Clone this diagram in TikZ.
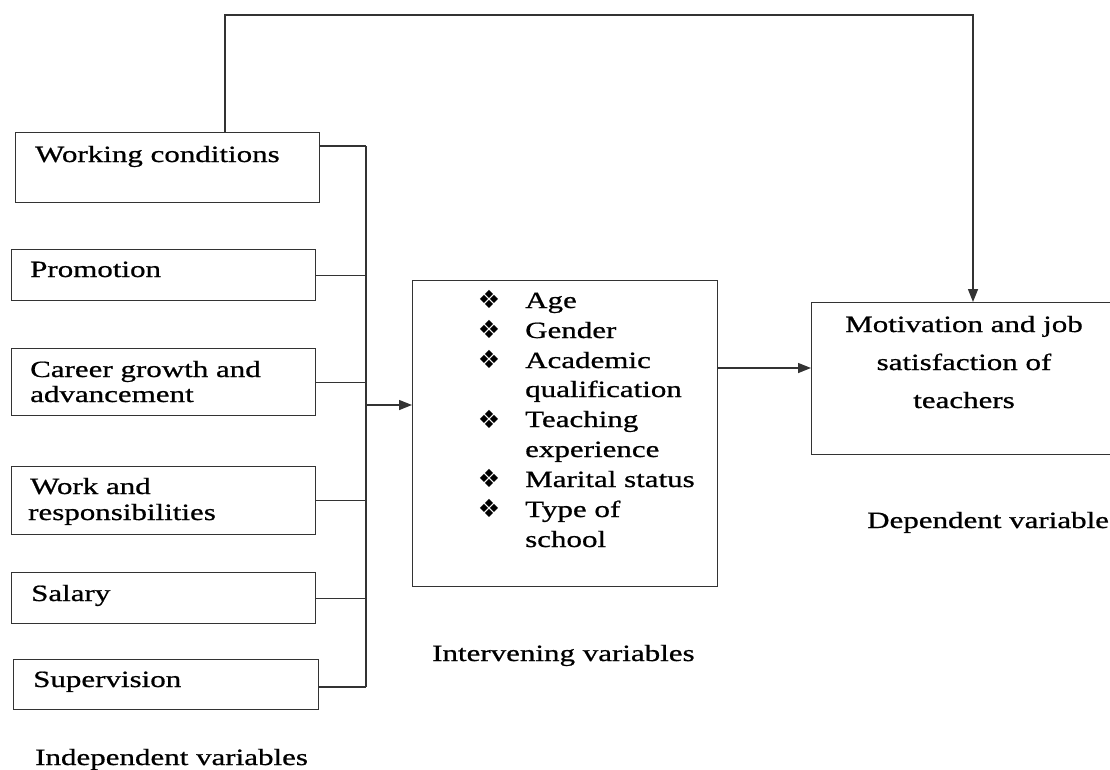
\documentclass[tikz,border=0pt]{standalone}
\usepackage{fontspec}
\setmainfont[FakeStretch=1.33,FakeBold=0.8]{Liberation Serif}
\newfontfamily\dejavu{DejaVu Sans}
\usetikzlibrary{arrows.meta}
\begin{document}
\begin{tikzpicture}[x=1pt,y=-1pt,
  line/.style={draw=black!80, line width=1.4pt},
  box/.style={line, inner sep=0pt, anchor=north west},
  lbl/.style={font=\fontsize{23.3}{25}\selectfont, inner sep=0pt, anchor=base west, text=black},
  clbl/.style={lbl, anchor=base},
  bul/.style={font=\dejavu\fontsize{25}{25}\selectfont, inner sep=0pt, anchor=base, text=black},
  arr/.style={line, -{Triangle[length=13pt,width=10pt]}}]
\useasboundingbox (0,0) rectangle (1110,769);

% left boxes
\node[box, minimum width=304pt, minimum height=70pt] (wc) at (15,132) {};
\node[box, minimum width=304pt, minimum height=51pt] (pr) at (11,249) {};
\node[box, minimum width=304pt, minimum height=67pt] (cg) at (11,348) {};
\node[box, minimum width=304pt, minimum height=68pt] (wr) at (11,466) {};
\node[box, minimum width=304pt, minimum height=51pt] (sa) at (11,572) {};
\node[box, minimum width=305pt, minimum height=50pt] (sv) at (13,659) {};

\node[lbl] (twc) at (35,162) {Working conditions};
\node[lbl] (tpr) at (30,277) {Promotion};
\node[lbl] (tcg1) at (30,377) {Career growth and};
\node[lbl] (tcg2) at (30,402) {advancement};
\node[lbl] (twr1) at (30,494) {Work and};
\node[lbl] (twr2) at (28,520) {responsibilities};
\node[lbl] (tsa) at (31,601) {Salary};
\node[lbl] (tsv) at (33,687) {Supervision};
\node[lbl] (tind) at (35,765) {Independent variables};

% middle box
\node[box, minimum width=305pt, minimum height=306pt] (mid) at (412,280) {};
\foreach \i/\yy in {1/308, 2/338, 3/368, 5/428, 7/487, 8/517}{
  \node[bul] (b\i) at (489,\yy) {❖};
}
\foreach \i/\yy/\tx in {1/308/Age, 2/338/Gender, 3/368/Academic, 4/397/qualification,
  5/427/Teaching, 6/457/experience, 7/487/Marital status, 8/517/Type of, 9/547/school}{
  \node[lbl] (m\i) at (525,\yy) {\tx};
}
\node[lbl] (tint) at (432,661) {Intervening variables};

% right box
\node[box, minimum width=330pt, minimum height=152pt] (dv) at (811,302) {};
\node[clbl] (d1) at (964,332) {Motivation and job};
\node[clbl] (d2) at (964,370) {satisfaction of};
\node[clbl] (d3) at (964,408) {teachers};
\node[lbl] (tdep) at (867,528) {Dependent variable};

% bus
\coordinate (busT) at (366,146);
\coordinate (busB) at (366,687);
\coordinate (busA) at (366,405);
\draw[line] (busT) -- (busB);
\draw[line] (wc.east |- busT) -- (busT);
\draw[line] (pr.east) -- (pr.east -| busT);
\draw[line] (cg.east) -- (cg.east -| busT);
\draw[line] (wr.east) -- (wr.east -| busT);
\draw[line] (sa.east) -- (sa.east -| busT);
\draw[line] (sv.east |- busB) -- (busB);
\draw[arr] (busA) -- (busA -| mid.west);

% middle to right
\coordinate (m2) at (717,368);
\draw[arr] (m2) -- (m2 -| dv.west);

% top loop
\coordinate (tl) at (225,15);
\coordinate (tr) at (973,15);
\draw[arr] (wc.north -| tl) -- (tl) -- (tr) -- (tr |- dv.north);
\end{tikzpicture}
\end{document}
